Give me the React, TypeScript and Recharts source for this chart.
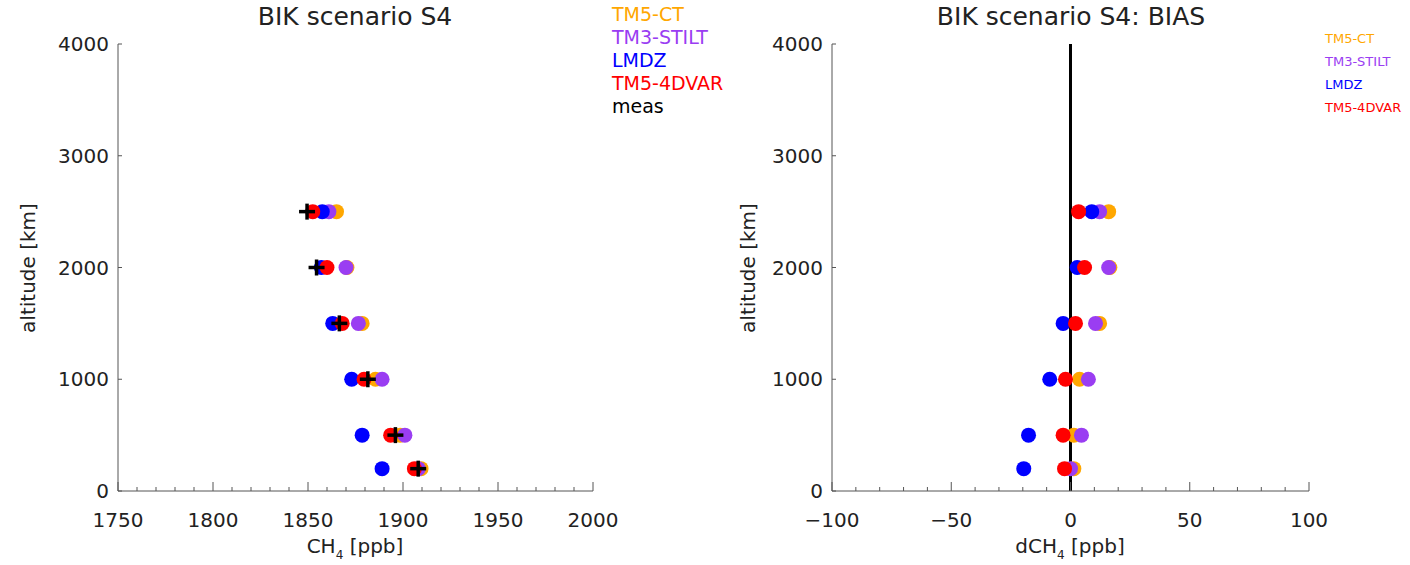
import React from 'react';
import { ScatterChart, Scatter, XAxis, YAxis, ReferenceLine } from 'recharts';

// altitude levels [m] of the profile samples
const ALTITUDES = [2500, 2000, 1500, 1000, 500, 200];

// CH4 mixing ratio [ppb]
const MEAS = [1849.5, 1854.5, 1866.5, 1881.5, 1896, 1908];
const TM5_CT = [1865, 1870.5, 1878.5, 1885.5, 1898.5, 1909.5];
const TM3_STILT = [1861, 1870, 1876.5, 1889, 1901, 1908];
const LMDZ = [1857.5, 1857, 1863, 1873, 1878.5, 1889];
const TM5_4DVAR = [1852.5, 1860, 1868, 1879.5, 1893.5, 1906];

// model minus measurement [ppb]
const BIAS_TM5_CT = [16, 16.5, 12.2, 3.8, 1.4, 1.4];
const BIAS_TM3_STILT = [12.2, 16, 10.5, 7.5, 4.6, 0];
const BIAS_LMDZ = [8.9, 2.8, -3.1, -8.7, -17.6, -19.6];
const BIAS_TM5_4DVAR = [3.4, 5.9, 2.1, -2.1, -3.1, -2.5];

const ABS_TICKS = [1750, 1800, 1850, 1900, 1950, 2000];
const BIAS_TICKS = [-100, -50, 0, 50, 100];
const ALT_TICKS = [0, 1000, 2000, 3000, 4000];

const ORANGE = '#ffa700';
const PURPLE = '#9a3df2';
const BLUE = '#0000ff';
const RED = '#ff0000';

const MODELS = [
  { name: 'TM5-CT', color: ORANGE, abs: TM5_CT, bias: BIAS_TM5_CT },
  { name: 'TM3-STILT', color: PURPLE, abs: TM3_STILT, bias: BIAS_TM3_STILT },
  { name: 'LMDZ', color: BLUE, abs: LMDZ, bias: BIAS_LMDZ },
  { name: 'TM5-4DVAR', color: RED, abs: TM5_4DVAR, bias: BIAS_TM5_4DVAR },
];

const FONT = '"DejaVu Sans", "Liberation Sans", sans-serif';
const AXIS = '#555';
const INK = '#222';
const W = 705;
const H = 565;
const PLOT_TOP = 44;
const PLOT_BOTTOM = 491;
const X_AXIS_H = 40;
const Y_AXIS_W = 70;

const toPoints = (values: number[]) => values.map((v, i) => ({ x: v, y: ALTITUDES[i] }));

// majors plus minor ticks every 10 between them
const withMinor = (majors: number[]) => {
  const out: number[] = [];
  for (let v = majors[0]; v <= majors[majors.length - 1]; v += 10) out.push(v);
  return out;
};

const fmt = (v: number) => (v < 0 ? `\u2212${Math.abs(v)}` : `${v}`);

function Dot(color: string) {
  return (p: any) => <circle cx={p.cx} cy={p.cy} r={7.5} fill={color} />;
}

function Cross(p: any) {
  return (
    <g stroke="#000" strokeWidth={3.5}>
      <line x1={p.cx - 8} x2={p.cx + 8} y1={p.cy} y2={p.cy} />
      <line x1={p.cx} x2={p.cx} y1={p.cy - 8} y2={p.cy + 8} />
    </g>
  );
}

interface PanelProps {
  left: number;
  plotLeft: number;
  plotRight: number;
  domain: [number, number];
  majors: number[];
  bias: boolean;
}

function Panel({ left, plotLeft, plotRight, domain, majors, bias }: PanelProps) {
  const ticks = withMinor(majors);
  // inward ticks, drawn from the box edges
  const bottomTick = (p: any) => {
    const v = p.payload.value;
    const major = majors.includes(v);
    return (
      <g>
        <line x1={p.x} x2={p.x} y1={PLOT_BOTTOM} y2={PLOT_BOTTOM - (major ? 9 : 4)} stroke={AXIS} />
        {major && (
          <text x={p.x} y={PLOT_BOTTOM + 36} textAnchor="middle" fontSize={20} fontFamily={FONT} fill={INK}>
            {fmt(v)}
          </text>
        )}
      </g>
    );
  };
  const topTick = (p: any) => {
    const major = majors.includes(p.payload.value);
    return <line x1={p.x} x2={p.x} y1={PLOT_TOP} y2={PLOT_TOP + (major ? 9 : 4)} stroke={AXIS} />;
  };
  const leftTick = (p: any) => (
    <g>
      <line x1={plotLeft} x2={plotLeft + 4} y1={p.y} y2={p.y} stroke={AXIS} />
      <text x={plotLeft - 9} y={p.y + 7} textAnchor="end" fontSize={20} fontFamily={FONT} fill={INK}>
        {p.payload.value}
      </text>
    </g>
  );

  return (
    <div style={{ position: 'absolute', left, top: 0 }}>
      <ScatterChart
        width={W}
        height={H}
        margin={{ top: PLOT_TOP, right: W - plotRight, bottom: H - PLOT_BOTTOM - X_AXIS_H, left: plotLeft - Y_AXIS_W }}
      >
        <XAxis xAxisId="b" type="number" dataKey="x" domain={domain} ticks={ticks} interval={0} allowDataOverflow
          height={X_AXIS_H} tickSize={0} tickMargin={0} tickLine={false} tick={bottomTick} axisLine={{ stroke: AXIS }} />
        <XAxis xAxisId="t" orientation="top" type="number" domain={domain} ticks={ticks} interval={0} allowDataOverflow
          height={0} tickSize={0} tickMargin={0} tickLine={false} tick={topTick} axisLine={{ stroke: AXIS }} />
        <YAxis yAxisId="l" type="number" dataKey="y" domain={[0, 4000]} ticks={ALT_TICKS} interval={0} allowDataOverflow
          width={Y_AXIS_W} tickSize={0} tickMargin={0} tickLine={false} tick={leftTick} axisLine={{ stroke: AXIS }} />
        <YAxis yAxisId="r" orientation="right" type="number" domain={[0, 4000]} ticks={ALT_TICKS} allowDataOverflow
          width={0} tick={false} tickLine={false} axisLine={{ stroke: AXIS }} />
        {bias && <ReferenceLine xAxisId="b" yAxisId="l" x={0} stroke="#000" strokeWidth={3} />}
        {MODELS.map((m) => (
          <Scatter key={m.name} xAxisId="b" yAxisId="l" data={toPoints(bias ? m.bias : m.abs)}
            shape={Dot(m.color)} isAnimationActive={false} />
        ))}
        {!bias && (
          <Scatter xAxisId="b" yAxisId="l" data={toPoints(MEAS)} shape={Cross} isAnimationActive={false} />
        )}
      </ScatterChart>
    </div>
  );
}

const txt = (style: React.CSSProperties): React.CSSProperties => ({
  position: 'absolute', fontFamily: FONT, color: INK, whiteSpace: 'nowrap', lineHeight: 1, ...style,
});

export default function App() {
  return (
    <div style={{ position: 'absolute', left: 0, top: 0, width: 1410, height: 565, background: '#fff' }}>
      <Panel left={0} plotLeft={118} plotRight={593} domain={[1750, 2000]} majors={ABS_TICKS} bias={false} />
      <Panel left={705} plotLeft={127} plotRight={604} domain={[-100, 100]} majors={BIAS_TICKS} bias />

      <div style={txt({ left: 355, top: 4, fontSize: 25, transform: 'translateX(-50%)' })}>BIK scenario S4</div>
      <div style={txt({ left: 1071, top: 4, fontSize: 25, transform: 'translateX(-50%)' })}>BIK scenario S4: BIAS</div>

      <div style={txt({ left: 355, top: 536, fontSize: 20, transform: 'translateX(-50%)' })}>
        CH<span style={{ fontSize: 12, verticalAlign: -6 }}>4</span> [ppb]
      </div>
      <div style={txt({ left: 1070, top: 536, fontSize: 20, transform: 'translateX(-50%)' })}>
        dCH<span style={{ fontSize: 12, verticalAlign: -6 }}>4</span> [ppb]
      </div>
      <div style={txt({ left: 28, top: 268, fontSize: 20, transform: 'translate(-50%, -50%) rotate(-90deg)' })}>altitude [km]</div>
      <div style={txt({ left: 748, top: 268, fontSize: 20, transform: 'translate(-50%, -50%) rotate(-90deg)' })}>altitude [km]</div>

      {MODELS.map((m, i) => (
        <div key={m.name} style={txt({ left: 612, top: 5 + i * 23, fontSize: 19, color: m.color })}>{m.name}</div>
      ))}
      <div style={txt({ left: 612, top: 5 + 4 * 23, fontSize: 19, color: '#000' })}>meas</div>

      {MODELS.map((m, i) => (
        <div key={m.name} style={txt({ left: 1325, top: 32 + i * 23, fontSize: 13, color: m.color })}>{m.name}</div>
      ))}
    </div>
  );
}
